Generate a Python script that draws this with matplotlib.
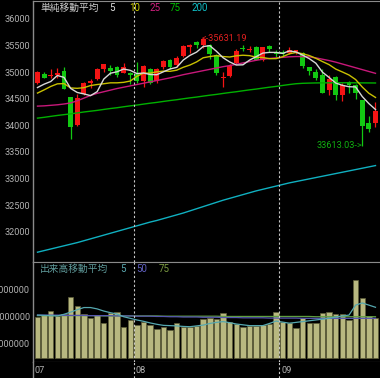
import matplotlib
matplotlib.use("Agg")
import matplotlib.pyplot as plt
import numpy as np

# Dow daily candles, 2021-07-12 .. 2021-09-22
opens = [34800, 34970, 34920, 34950, 35010, 34525, 34000, 34580, 34800, 34870,
         35050, 35070, 35090, 34990, 34990, 34960, 34830, 35050, 34830, 35090,
         35220, 35130, 35300, 35470, 35560, 35500, 35506, 35320, 34880, 34925,
         35163, 35450, 35420, 35460, 35220, 35480, 35380, 35380, 35350, 35365,
         35363, 35088, 35006, 34944, 34662, 34900, 34575, 34818, 34756, 34475,
         34040, 34040]
highs = [35015, 35000, 35050, 35075, 35090, 34540, 34580, 34820, 34870, 35080,
         35150, 35130, 35120, 35170, 35000, 35190, 35130, 35080, 35070, 35230,
         35240, 35300, 35500, 35520, 35580, 35631.19, 35520, 35340, 35006, 35150,
         35430, 35500, 35490, 35480, 35470, 35500, 35420, 35420, 35460, 35420,
         35380, 35100, 35050, 35050, 34940, 34930, 34800, 34830, 34780, 34480,
         34180, 34444]
lows = [34780, 34880, 34880, 34880, 34680, 33741, 33980, 34560, 34700, 34850,
        35000, 34940, 34900, 34980, 34780, 34800, 34710, 34780, 34800, 35060,
        35050, 35100, 35280, 35350, 35450, 35450, 35250, 34940, 34712, 34900,
        35150, 35400, 35370, 35220, 35210, 35380, 35290, 35300, 35330, 35330,
        35080, 34950, 34850, 34600, 34560, 34470, 34450, 34600, 34500, 33613.03,
        33870, 33960]
closes = [34996, 34889, 34933, 34987, 34688, 33962, 34512, 34798, 34823, 35062,
          35144, 35010, 34950, 35085, 34935, 34840, 35116, 34800, 35064, 35209,
          35102, 35265, 35485, 35500, 35515, 35610, 35343, 34975, 34900, 35120,
          35390, 35435, 35430, 35230, 35460, 35430, 35330, 35340, 35420, 35410,
          35113, 35025, 34881, 34613, 34863, 34575, 34756, 34756, 34600, 33987,
          33930, 34269]

ma5 = [34709, 34772, 34822, 34935, 34899, 34692, 34616, 34589, 34557, 34631,
       34868, 34977, 35004, 35056, 35031, 34970, 34981, 34953, 34949, 35004,
       35057, 35087, 35225, 35312, 35373, 35478, 35494, 35389, 35268, 35189,
       35131, 35135, 35224, 35288, 35355, 35368, 35367, 35349, 35395, 35377,
       35317, 35251, 35165, 34997, 34898, 34793, 34750, 34724, 34720, 34540,
       34408, 34297]
ma10 = [34605, 34665, 34729, 34778, 34783, 34701, 34694, 34706, 34746, 34765,
        34780, 34797, 34797, 34806, 34831, 34919, 34979, 34979, 35003, 35017,
        35013, 35034, 35089, 35131, 35189, 35267, 35290, 35307, 35290, 35281,
        35304, 35315, 35307, 35278, 35272, 35250, 35251, 35287, 35342, 35366,
        35343, 35309, 35257, 35196, 35138, 35055, 35001, 34944, 34859, 34719,
        34601, 34523]
ma25 = [34360, 34365, 34375, 34385, 34400, 34420, 34460, 34510, 34560, 34600,
        34630, 34660, 34690, 34715, 34740, 34765, 34790, 34815, 34840, 34865,
        34890, 34920, 34950, 34975, 35000, 35025, 35050, 35075, 35100, 35120,
        35145, 35170, 35195, 35220, 35240, 35255, 35265, 35275, 35285, 35290,
        35290, 35285, 35265, 35240, 35215, 35185, 35150, 35115, 35080, 35045,
        35010, 34975]
ma75 = [34135, 34150, 34168, 34185, 34200, 34215, 34232, 34250, 34265, 34280,
        34298, 34315, 34330, 34348, 34365, 34380, 34398, 34415, 34430, 34448,
        34465, 34480, 34498, 34515, 34530, 34548, 34565, 34580, 34598, 34615,
        34630, 34648, 34665, 34680, 34698, 34715, 34730, 34748, 34765, 34780,
        34788, 34792, 34795, 34796, 34797, 34798, 34798, 34798, 34797, 34796,
        34795, 34794]
ma200 = [31620, 31650, 31680, 31710, 31740, 31770, 31800, 31835, 31870, 31905,
         31940, 31975, 32010, 32045, 32080, 32115, 32150, 32185, 32215, 32250,
         32285, 32320, 32355, 32395, 32435, 32475, 32515, 32555, 32595, 32630,
         32665, 32700, 32735, 32770, 32800, 32830, 32860, 32890, 32920, 32945,
         32970, 32995, 33020, 33045, 33070, 33095, 33120, 33145, 33170, 33195,
         33220, 33245]

# volume in millions
volume = [301, 307, 323, 304, 310, 373, 341, 311, 295, 307,
          279, 316, 320, 262, 289, 270, 280, 270, 256, 264,
          252, 277, 264, 263, 267, 293, 297, 293, 314, 283,
          273, 264, 268, 268, 270, 273, 317, 283, 279, 258,
          295, 277, 279, 314, 317, 310, 310, 289, 437, 369,
          304, 297]
vol_ma5 = [307, 306, 305, 304, 310, 318, 327, 335, 335, 330,
           322, 316, 311, 301, 295, 289, 284, 278, 273, 269,
           268, 267, 265, 264, 267, 270, 276, 280, 283, 279,
           274, 271, 268, 268, 268, 276, 285, 281, 277, 280,
           283, 286, 289, 292, 295, 300, 304, 307, 344, 352,
           344, 336]
vol_ma50 = [307, 307, 307, 307, 306, 306, 306, 306, 305, 305,
            305, 305, 304, 304, 304, 303, 303, 303, 302, 302,
            301, 301, 300, 300, 300, 299, 299, 299, 298, 298,
            298, 297, 297, 297, 297, 296, 296, 296, 296, 296,
            295, 295, 295, 295, 295, 295, 295, 295, 295, 295,
            295, 295]
vol_ma75 = [305, 305, 305, 305, 305, 305, 305, 305, 305, 305,
            304, 304, 304, 304, 304, 304, 304, 304, 304, 303,
            303, 303, 303, 303, 303, 303, 303, 303, 302, 302,
            302, 302, 302, 302, 302, 302, 302, 302, 302, 302,
            302, 302, 301, 301, 301, 301, 301, 301, 301, 301,
            301, 301]

price_ticks = [32000, 32500, 33000, 33500, 34000, 34500, 35000, 35500, 36000]
vol_ticks = [200, 300, 400]
vol_tick_labels = ["200000000", "300000000", "400000000"]
month_labels = ["07", "08", "09"]
month_starts = [0, 15, 37]

plt.rcParams["font.family"] = ["Roboto", "Noto Sans CJK JP"]
FS = 6.6

W, H = 380, 378
fig = plt.figure(figsize=(W / 100, H / 100), dpi=100, facecolor="black")

L = 33 / W
ax = fig.add_axes([L, 1 - 262 / H, 1 - L, 261 / H], facecolor="black")
axv = fig.add_axes([L, 1 - 362 / H, 1 - L, 100 / H], facecolor="black")
axd = fig.add_axes([L, 0, 1 - L, 16 / H], facecolor="black")

n = len(closes)
x = np.arange(n)
xlim = (-0.679, 51.68)
grid_col = "#8a8a8a"
lab_col = "#b0b0b0"

# candles
up_col, dn_col = "#f41414", "#12c812"
for i in range(n):
    col = up_col if closes[i] >= opens[i] else dn_col
    ax.vlines(i, lows[i], highs[i], color=col, lw=0.9, zorder=3)
    lo = min(opens[i], closes[i])
    h = max(abs(closes[i] - opens[i]), 16)
    ax.bar(i, h, bottom=lo, width=0.74, color=col, zorder=4)

ax.plot(x, ma200, color="#10b0c0", lw=1.0, zorder=5)
ax.plot(x, ma75, color="#00b000", lw=1.0, zorder=5)
ax.plot(x, ma25, color="#c8187a", lw=1.0, zorder=5)
ax.plot(x, ma10, color="#c8c000", lw=1.0, zorder=5)
ax.plot(x, ma5, color="#d8d8d8", lw=1.0, zorder=6)

ax.set_xlim(*xlim)
ax.set_ylim(31436, 36332)
ax.set_yticks(price_ticks)
ax.set_yticklabels([str(t) for t in price_ticks])
ax.set_xticks([])

# annotations of high / low
hi_i = int(np.argmax(highs))
lo_i = int(np.argmin(lows))
ax.text(hi_i - 0.2, highs[hi_i], "<-%.2f" % highs[hi_i], color="#e02020",
        fontsize=FS, ha="left", va="center", zorder=8)
ax.text(lo_i, lows[lo_i], "%.2f->" % lows[lo_i], color="#10b010",
        fontsize=FS, ha="right", va="center", zorder=8)

# volume
vb = 149
axv.bar(x, np.array(volume) - vb, bottom=vb, width=0.82, color="#b8b880",
        edgecolor="#5e5e3a", linewidth=0.5, zorder=3)
axv.plot(x, vol_ma75, color="#5f9f3f", lw=0.9, zorder=4)
axv.plot(x, vol_ma50, color="#5656b0", lw=0.9, zorder=4)
axv.plot(x, vol_ma5, color="#56a8b0", lw=0.9, zorder=5)
axv.set_xlim(*xlim)
axv.set_ylim(133.3, 503.7)
axv.set_yticks(vol_ticks)
axv.set_yticklabels(vol_tick_labels)
axv.set_xticks([])

axd.set_xlim(*xlim)
axd.set_ylim(0, 1)
axd.set_xticks([])
axd.set_yticks([])
for lab, s in zip(month_labels, month_starts):
    xs = s - 0.5 if s > 0 else xlim[0]
    axd.text(xs + 0.3, 0.45, lab, color=lab_col, fontsize=FS, ha="left", va="center")

for a in (ax, axv, axd):
    for sp in a.spines.values():
        sp.set_visible(False)
    a.spines["left"].set_visible(True)
    a.spines["left"].set_color(grid_col)
    a.spines["left"].set_linewidth(1.0)
    a.tick_params(axis="y", length=0, pad=2, labelsize=FS, labelcolor=lab_col)
    for s in month_starts[1:]:
        a.axvline(s - 0.5, color="#c8c8c8", lw=0.8, ls=(0, (2, 2)), zorder=7)

for a in (ax, axv):
    a.spines["top"].set_visible(True)
    a.spines["top"].set_color(grid_col)
    a.spines["bottom"].set_visible(True)
    a.spines["bottom"].set_color(grid_col)

# legends
def fig_text(px, py, s, col):
    fig.text(px / W, 1 - py / H, s, color=col, fontsize=7, ha="left", va="center")

fig_text(40, 8, "単純移動平均", "#d0d0d0")
fig_text(109, 8, "5", "#e0e0e0")
fig_text(129, 8, "10", "#d0d000")
fig_text(149, 8, "25", "#d0207e")
fig_text(170, 8, "75", "#00c000")
fig_text(192, 8, "200", "#10c0c8")

fig_text(40, 269, "出来高移動平均", "#5f9a9a")
fig_text(120, 269, "5", "#5aa8b0")
fig_text(136, 269, "50", "#6060c0")
fig_text(159, 269, "75", "#7a9a40")

fig.savefig("out.png", dpi=100, facecolor="black")
